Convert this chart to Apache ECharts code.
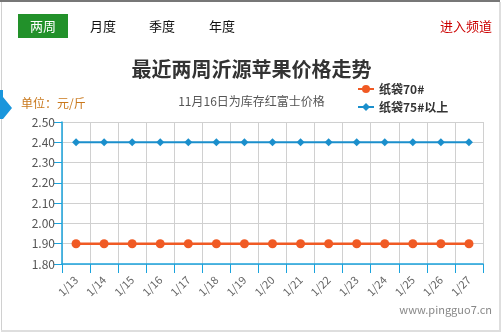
<!DOCTYPE html>
<html>
<head>
<meta charset="utf-8">
<script src="https://cdn.jsdelivr.net/npm/echarts@6/dist/echarts.min.js"></script>
<style>
  html, body { margin: 0; padding: 0; background: #fff; }
  #chart { width: 503px; height: 334px; }
</style>
</head>
<body>
<div id="chart"></div>
<script>
// Dates of the last two weeks
const days = ['1/13', '1/14', '1/15', '1/16', '1/17', '1/18', '1/19', '1/20', '1/21', '1/22', '1/23', '1/24', '1/25', '1/26', '1/27'];
// Price series (元/斤)
const bag70 = [1.90, 1.90, 1.90, 1.90, 1.90, 1.90, 1.90, 1.90, 1.90, 1.90, 1.90, 1.90, 1.90, 1.90, 1.90];
const bag75 = [2.40, 2.40, 2.40, 2.40, 2.40, 2.40, 2.40, 2.40, 2.40, 2.40, 2.40, 2.40, 2.40, 2.40, 2.40];
const seriesNames = ['纸袋70#', '纸袋75#以上'];
// Period tabs
const tabs = ['两周', '月度', '季度', '年度'];

const FONT = '"Noto Sans CJK SC", "Noto Sans", sans-serif';
const AXIS_BLUE = '#1aa3dd';

const chart = echarts.init(document.getElementById('chart'), null, { renderer: 'canvas' });

const tabX = [43, 103, 162, 222];
const graphics = [
  // frame
  { type: 'rect', shape: { x: 0, y: 0, width: 500, height: 2 }, style: { fill: '#777' }, silent: true },
  { type: 'rect', shape: { x: 1, y: 2, width: 1, height: 330 }, style: { fill: '#d0d0d0' }, silent: true },
  { type: 'rect', shape: { x: 499, y: 2, width: 2, height: 330 }, style: { fill: '#dedede' }, silent: true },
  { type: 'rect', shape: { x: 1, y: 330, width: 500, height: 2 }, style: { fill: '#dedede' }, silent: true },
  // side marker
  { type: 'polygon', shape: { points: [[0, 90], [3, 90], [3, 97], [12, 108], [3, 119], [0, 119]] }, style: { fill: '#1a96dc' }, silent: true },
  // active tab
  { type: 'rect', shape: { x: 18, y: 14, width: 50, height: 24 }, style: { fill: '#22912a' }, silent: true },
  // channel link
  { type: 'text', x: 466, y: 26, style: { text: '进入频道', fill: '#cc0000', font: '13px ' + FONT, textAlign: 'center', textVerticalAlign: 'middle' }, silent: true },
  // unit
  { type: 'text', x: 21, y: 103, style: { text: '单位：元/斤', fill: '#c9781c', font: '12px ' + FONT, textAlign: 'left', textVerticalAlign: 'middle' }, silent: true },
  // site mark
  { type: 'text', x: 492, y: 310, style: { text: 'www.pingguo7.cn', fill: '#888', font: '11px ' + FONT, textAlign: 'right', textVerticalAlign: 'middle' }, silent: true }
];
tabs.forEach((t, i) => {
  graphics.push({
    type: 'text', x: tabX[i], y: 26,
    style: { text: t, fill: i === 0 ? '#fff' : '#111', font: '13px ' + FONT, textAlign: 'center', textVerticalAlign: 'middle' },
    silent: true
  });
});

chart.setOption({
  animation: false,
  backgroundColor: '#fff',
  textStyle: { fontFamily: FONT },
  title: [
    { text: '最近两周沂源苹果价格走势', left: 'center', top: 54,
      textStyle: { fontSize: 20, fontWeight: 'bold', color: '#333', fontFamily: FONT } },
    { text: '11月16日为库存红富士价格', left: 'center', top: 90,
      textStyle: { fontSize: 12, fontWeight: 'normal', color: '#555', fontFamily: FONT } }
  ],
  legend: {
    orient: 'vertical', left: 352, top: 78, itemGap: 6, itemWidth: 16, itemHeight: 10,
    textStyle: { fontSize: 12, fontWeight: 'bold', color: '#333', fontFamily: FONT },
    data: seriesNames
  },
  graphic: graphics,
  grid: { left: 62, right: 20, top: 122, bottom: 70, containLabel: false },
  xAxis: {
    type: 'category',
    data: days,
    boundaryGap: true,
    axisLine: { lineStyle: { color: AXIS_BLUE, width: 1.5 } },
    axisTick: { show: true, length: 9, lineStyle: { color: AXIS_BLUE } },
    axisLabel: { rotate: 45, color: '#666', fontSize: 11, margin: 14, fontFamily: FONT },
    splitLine: { show: true, lineStyle: { color: '#d0d0d0' } }
  },
  yAxis: {
    type: 'value',
    min: 1.8, max: 2.5, interval: 0.1,
    axisLine: { show: true, lineStyle: { color: AXIS_BLUE, width: 1.5 } },
    axisTick: { show: true, length: 8, lineStyle: { color: AXIS_BLUE } },
    axisLabel: { color: '#555', fontSize: 12, margin: 7, fontFamily: FONT, formatter: v => v.toFixed(2) },
    splitLine: { show: true, lineStyle: { color: '#d0d0d0' } }
  },
  series: [
    { name: seriesNames[0], type: 'line', data: bag70, color: '#f05a24',
      symbol: 'circle', symbolSize: 9, lineStyle: { width: 2.5 } },
    { name: seriesNames[1], type: 'line', data: bag75, color: '#1b8fcc',
      symbol: 'diamond', symbolSize: 8, lineStyle: { width: 2 } }
  ]
});
</script>
</body>
</html>
